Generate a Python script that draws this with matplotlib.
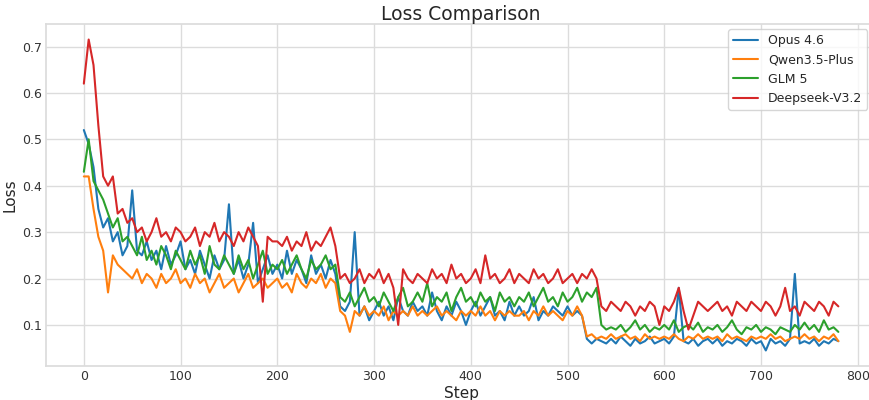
import matplotlib
matplotlib.use("Agg")
import matplotlib.pyplot as plt
import seaborn as sns
import numpy as np

steps = np.arange(0, 781, 5)

opus = [
    0.52, 0.49, 0.44, 0.35, 0.31, 0.33, 0.28, 0.30, 0.25, 0.27,
    0.39, 0.26, 0.25, 0.28, 0.24, 0.26, 0.22, 0.27, 0.23, 0.25,
    0.28, 0.22, 0.24, 0.21, 0.26, 0.23, 0.20, 0.25, 0.22, 0.24,
    0.36, 0.21, 0.24, 0.20, 0.23, 0.32, 0.19, 0.22, 0.25, 0.21,
    0.23, 0.20, 0.26, 0.21, 0.24, 0.22, 0.19, 0.25, 0.21, 0.23,
    0.20, 0.24, 0.21, 0.14, 0.13, 0.15, 0.30, 0.12, 0.14, 0.11,
    0.13, 0.15, 0.12, 0.14, 0.11, 0.16, 0.13, 0.12, 0.15, 0.13,
    0.14, 0.12, 0.17, 0.13, 0.11, 0.14, 0.12, 0.15, 0.13, 0.10,
    0.13, 0.15, 0.12, 0.14, 0.16, 0.12, 0.13, 0.11, 0.15, 0.12,
    0.14, 0.12, 0.13, 0.16, 0.11, 0.13, 0.12, 0.14, 0.13, 0.12,
    0.14, 0.12, 0.13, 0.12, 0.07, 0.06, 0.07, 0.065, 0.06, 0.07,
    0.06, 0.075, 0.065, 0.055, 0.07, 0.06, 0.065, 0.075, 0.06, 0.065,
    0.07, 0.06, 0.075, 0.18, 0.065, 0.06, 0.07, 0.055, 0.065, 0.07,
    0.06, 0.07, 0.055, 0.065, 0.06, 0.07, 0.065, 0.055, 0.07, 0.06,
    0.065, 0.045, 0.07, 0.06, 0.065, 0.055, 0.07, 0.21, 0.06, 0.065,
    0.06, 0.07, 0.055, 0.065, 0.06, 0.07, 0.065,
]

qwen = [
    0.42, 0.42, 0.35, 0.29, 0.26, 0.17, 0.25, 0.23, 0.22, 0.21,
    0.20, 0.22, 0.19, 0.21, 0.20, 0.18, 0.21, 0.19, 0.20, 0.22,
    0.19, 0.20, 0.18, 0.21, 0.19, 0.20, 0.17, 0.19, 0.21, 0.18,
    0.19, 0.20, 0.17, 0.19, 0.21, 0.18, 0.19, 0.20, 0.18, 0.19,
    0.20, 0.18, 0.19, 0.17, 0.21, 0.19, 0.18, 0.20, 0.19, 0.21,
    0.18, 0.20, 0.19, 0.13, 0.12, 0.085, 0.13, 0.12, 0.14, 0.12,
    0.13, 0.12, 0.14, 0.11, 0.13, 0.12, 0.13, 0.12, 0.14, 0.12,
    0.13, 0.12, 0.13, 0.14, 0.12, 0.13, 0.12, 0.11, 0.13, 0.12,
    0.13, 0.12, 0.14, 0.12, 0.13, 0.11, 0.13, 0.12, 0.13, 0.12,
    0.12, 0.13, 0.11, 0.13, 0.12, 0.14, 0.12, 0.13, 0.12, 0.11,
    0.13, 0.12, 0.14, 0.12, 0.075, 0.08, 0.07, 0.075, 0.07, 0.08,
    0.07, 0.075, 0.08, 0.07, 0.075, 0.065, 0.08, 0.07, 0.075, 0.07,
    0.075, 0.07, 0.08, 0.07, 0.065, 0.075, 0.07, 0.08, 0.07, 0.075,
    0.07, 0.075, 0.065, 0.08, 0.07, 0.075, 0.07, 0.065, 0.075, 0.07,
    0.075, 0.07, 0.08, 0.07, 0.075, 0.065, 0.07, 0.075, 0.07, 0.08,
    0.07, 0.075, 0.065, 0.075, 0.07, 0.08, 0.065,
]

glm = [
    0.43, 0.50, 0.41, 0.39, 0.37, 0.34, 0.31, 0.33, 0.28, 0.29,
    0.27, 0.25, 0.29, 0.24, 0.26, 0.23, 0.27, 0.25, 0.22, 0.26,
    0.24, 0.22, 0.26, 0.23, 0.25, 0.21, 0.27, 0.23, 0.22, 0.25,
    0.23, 0.21, 0.25, 0.22, 0.24, 0.20, 0.23, 0.26, 0.21, 0.23,
    0.22, 0.24, 0.21, 0.23, 0.25, 0.22, 0.20, 0.24, 0.22, 0.23,
    0.25, 0.22, 0.23, 0.16, 0.15, 0.17, 0.14, 0.16, 0.18, 0.15,
    0.16, 0.14, 0.17, 0.15, 0.13, 0.16, 0.18, 0.14, 0.15, 0.17,
    0.15, 0.19, 0.14, 0.16, 0.15, 0.17, 0.13, 0.16, 0.18, 0.15,
    0.16, 0.14, 0.17, 0.15, 0.16, 0.13, 0.17, 0.15, 0.16, 0.14,
    0.16, 0.15, 0.17, 0.14, 0.16, 0.18, 0.15, 0.16, 0.14, 0.17,
    0.15, 0.16, 0.18, 0.15, 0.17, 0.16, 0.18, 0.10, 0.09, 0.095,
    0.09, 0.10, 0.085, 0.095, 0.11, 0.09, 0.10, 0.085, 0.095, 0.09,
    0.10, 0.09, 0.11, 0.085, 0.095, 0.10, 0.09, 0.105, 0.085, 0.095,
    0.09, 0.10, 0.085, 0.095, 0.11, 0.09, 0.08, 0.095, 0.09, 0.10,
    0.085, 0.095, 0.09, 0.08, 0.095, 0.09, 0.085, 0.10, 0.09, 0.105,
    0.09, 0.10, 0.085, 0.11, 0.09, 0.095, 0.085,
]

deepseek = [
    0.62, 0.715, 0.66, 0.53, 0.42, 0.40, 0.42, 0.34, 0.35, 0.32,
    0.33, 0.30, 0.31, 0.28, 0.30, 0.33, 0.29, 0.30, 0.28, 0.31,
    0.30, 0.28, 0.29, 0.31, 0.27, 0.30, 0.29, 0.32, 0.28, 0.30,
    0.29, 0.27, 0.30, 0.28, 0.31, 0.29, 0.27, 0.15, 0.29, 0.28,
    0.28, 0.27, 0.29, 0.26, 0.28, 0.27, 0.30, 0.26, 0.28, 0.27,
    0.29, 0.31, 0.27, 0.20, 0.21, 0.19, 0.20, 0.22, 0.19, 0.21,
    0.20, 0.22, 0.19, 0.21, 0.18, 0.10, 0.22, 0.20, 0.19, 0.21,
    0.20, 0.19, 0.22, 0.20, 0.21, 0.19, 0.23, 0.20, 0.21, 0.19,
    0.20, 0.22, 0.19, 0.25, 0.20, 0.21, 0.19, 0.20, 0.22, 0.19,
    0.21, 0.20, 0.19, 0.22, 0.20, 0.21, 0.19, 0.20, 0.22, 0.19,
    0.20, 0.21, 0.19, 0.21, 0.20, 0.22, 0.20, 0.14, 0.13, 0.15,
    0.14, 0.13, 0.15, 0.14, 0.12, 0.14, 0.13, 0.15, 0.14, 0.10,
    0.14, 0.13, 0.15, 0.18, 0.13, 0.09, 0.12, 0.15, 0.14, 0.13,
    0.14, 0.15, 0.13, 0.14, 0.12, 0.15, 0.14, 0.13, 0.15, 0.14,
    0.13, 0.15, 0.14, 0.12, 0.14, 0.18, 0.13, 0.14, 0.12, 0.15,
    0.14, 0.13, 0.15, 0.14, 0.12, 0.15, 0.14,
]

series = [("Opus 4.6", opus), ("Qwen3.5-Plus", qwen),
          ("GLM 5", glm), ("Deepseek-V3.2", deepseek)]

sns.set_theme(style="whitegrid", palette="tab10")
plt.rcParams['font.family'] = ['DejaVu Sans']
plt.rcParams['grid.color'] = '#dcdcdc'
plt.rcParams['axes.edgecolor'] = '#dcdcdc'

fig, ax = plt.subplots(figsize=(8.7, 4), dpi=100)
for name, vals in series:
    ax.plot(steps, vals, label=name, linewidth=1.5)

ax.set_title("Loss Comparison", fontsize=13.5, pad=3)
ax.set_xlabel("Step", fontsize=11, labelpad=2)
ax.set_ylabel("Loss", fontsize=11, labelpad=3)
ax.tick_params(labelsize=9, length=0, pad=3, colors='#333333')
ax.legend(loc="upper right", fontsize=9, bbox_to_anchor=(0.997, 0.927),
          bbox_transform=fig.transFigure, borderaxespad=0)

fig.subplots_adjust(left=0.053, right=1.007, top=0.94, bottom=0.085)
fig.savefig("out.png")
